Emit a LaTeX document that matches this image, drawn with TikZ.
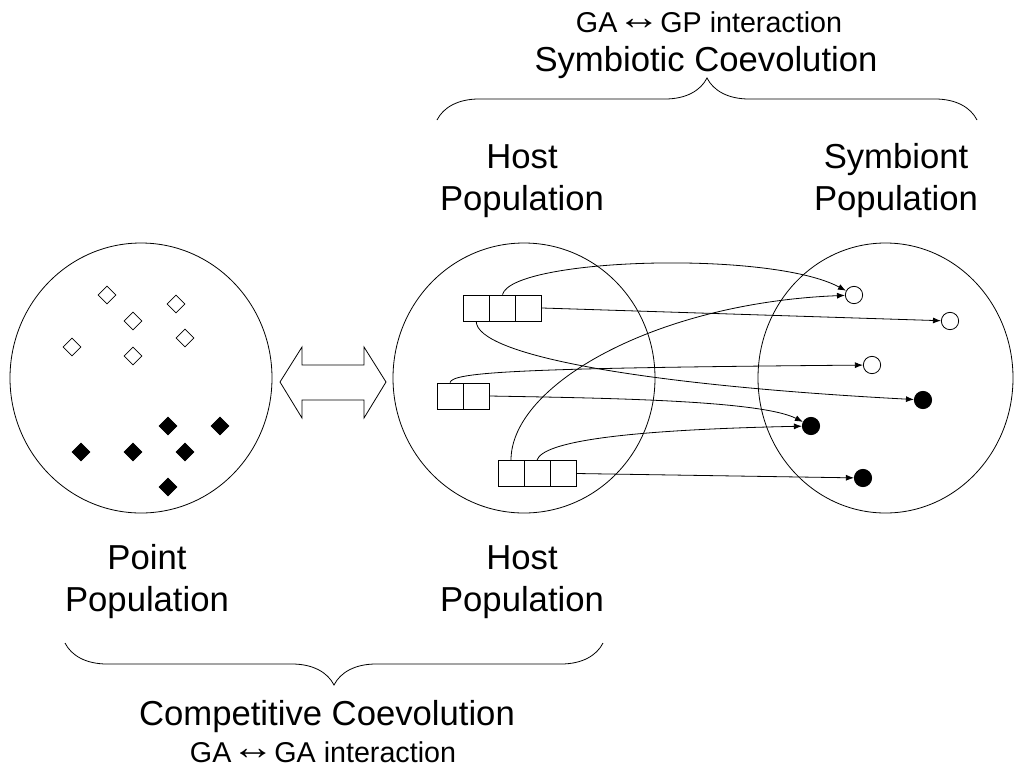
\documentclass[tikz,border=0pt]{standalone}
\usepackage{fontspec}
\setmainfont{Liberation Sans}
\newcommand{\bothways}{\raisebox{0.1em}{\scalebox{1.5}[1.25]{↔}}}
\usetikzlibrary{shapes.geometric, arrows.meta, decorations.pathreplacing}

\begin{document}
\begin{tikzpicture}[
    x=0.75pt, y=-0.75pt,
    line width=0.6pt,
    pop/.style={draw, ellipse, inner sep=0pt, minimum height=202.5pt},
    cell/.style={draw, rectangle, inner sep=0pt, minimum size=19.5pt},
    opendia/.style={draw, diamond, inner sep=0pt, minimum size=13.5pt},
    fulldia/.style={opendia, fill=black},
    opendot/.style={draw, circle, inner sep=0pt, minimum size=13pt},
    fulldot/.style={opendot, fill=black},
    link/.style={-{Latex[length=6pt, width=4.5pt]}},
    curly/.style={decorate, decoration={brace, amplitude=31.5pt}},
    bigtext/.style={font=\fontsize{26}{31.5}\selectfont, align=center, inner sep=0pt},
    smalltext/.style={font=\fontsize{21.5}{26}\selectfont, inner sep=0pt},
    ]
    \useasboundingbox (0,0) rectangle (1014,768);

    % the three populations
    \node[pop, minimum width=196.5pt] (pointpop) at (141,378) {};
    \node[pop, minimum width=196.5pt] (hostpop) at (524,378) {};
    \node[pop, minimum width=191.25pt] (sympop) at (885.5,378) {};

    % points
    \foreach \x/\y [count=\i] in {107/295, 176/304, 133/321, 185/338, 72/347, 133/356}
        \node[opendia] (po\i) at (\x,\y) {};
    \foreach \x/\y [count=\i] in {168/426, 220/426, 81/452, 133/452, 185/452, 168/487}
        \node[fulldia] (pf\i) at (\x,\y) {};

    % double arrow between point and host population
    \draw (280,382) -- (302,347) -- (302,365) -- (364,365) -- (364,347) -- (386,382)
        -- (364,418) -- (364,400) -- (302,400) -- (302,418) -- cycle;

    % hosts
    \foreach \n/\x/\y in {a1/476.2/308, a2/502.5/308, a3/528.8/308,
                          b1/450/396, b2/476/396,
                          c1/511/473.5, c2/537/473.5, c3/563/473.5}
        \node[cell] (\n) at (\x,\y) {};

    % symbionts
    \node[opendot] (sA) at (854,295) {};
    \node[opendot] (sB) at (950,321) {};
    \node[opendot] (sC) at (872,365) {};
    \node[fulldot] (sD) at (923,400) {};
    \node[fulldot] (sE) at (811,426) {};
    \node[fulldot] (sF) at (863,478) {};

    % host -> symbiont
    \draw[link] (a2.north) .. controls (512,258) and (770,250) .. (sA);
    \draw[link] (a3.east) -- (sB);
    \draw[link] (a1.south) .. controls (477,355) and (640,385) .. (sD);
    \draw[link] (b1.north) .. controls (452,372) and (520,368) .. (sC);
    \draw[link] (b2.east) .. controls (600,398) and (760,400) .. (sE);
    \draw[link] (c1.north) .. controls (511,385) and (655,303) .. (sA);
    \draw[link] (c2.north) .. controls (543,442) and (620,430) .. (sE);
    \draw[link] (c3.east) -- (sF);

    % labels
    \node[bigtext] (hosttop) at (522,181) {Host\\Population};
    \node[bigtext] (symtop) at (896,181) {Symbiont\\Population};
    \node[bigtext] (pointbot) at (147,582) {Point\\Population};
    \node[bigtext] (hostbot) at (522,582) {Host\\Population};

    \draw[curly] (437,120) -- (977,120);
    \node[bigtext] (symbiotic) at (706,63) {Symbiotic Coevolution};
    \node[smalltext] (gagp) at (709,22) {GA\bothways GP interaction};

    \draw[curly] (603,643) -- (65,643);
    \node[bigtext] (competitive) at (327,717) {Competitive Coevolution};
    \node[smalltext] (gaga) at (323,752) {GA\bothways GA interaction};
\end{tikzpicture}
\end{document}
